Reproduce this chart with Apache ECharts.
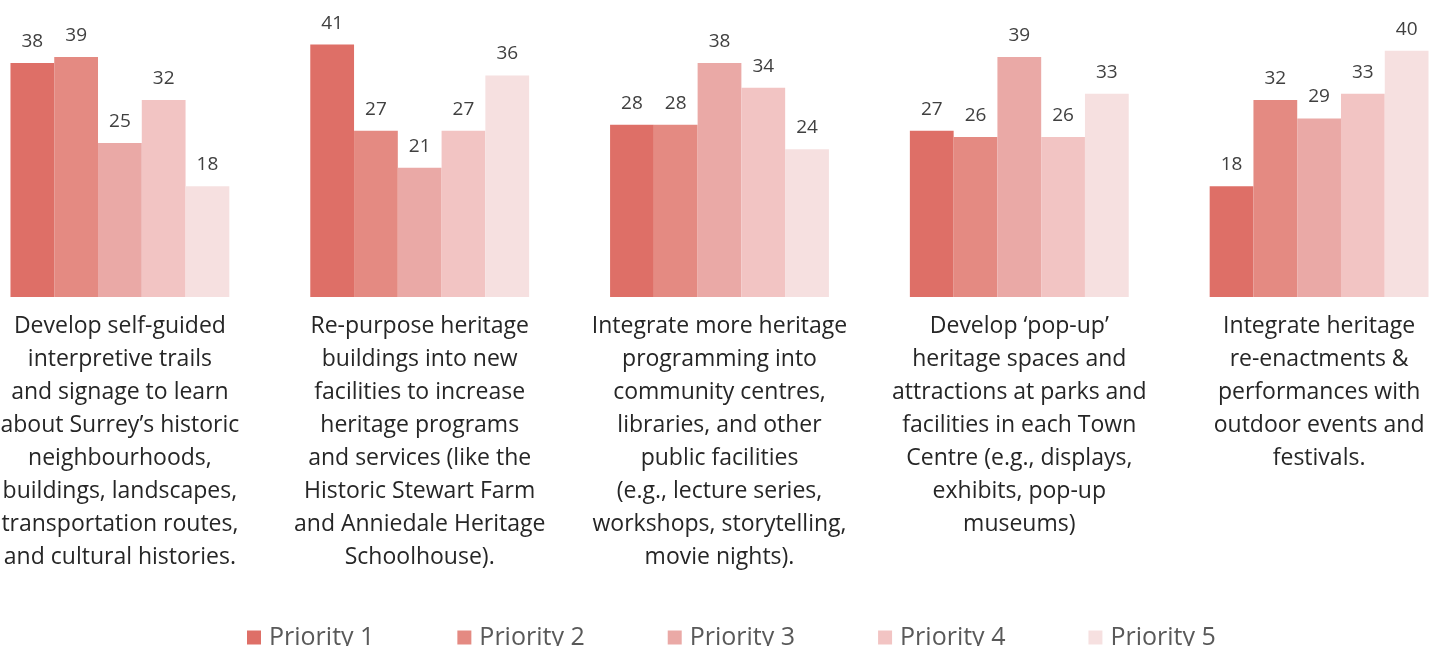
<!DOCTYPE html>
<html>
<head>
<meta charset="utf-8">
<script src="https://cdn.jsdelivr.net/npm/echarts@6/dist/echarts.min.js"></script>
<style>
  html, body { margin: 0; padding: 0; background: #fff; }
  #chart { width: 1435px; height: 646px; }
</style>
</head>
<body>
<div id="chart"></div>
<script>
// 类目(每组的说明文字，换行按原图)
const categories = [
  'Develop self-guided\ninterpretive trails\nand signage to learn\nabout Surrey\u2019s historic\nneighbourhoods,\nbuildings, landscapes,\ntransportation routes,\nand cultural histories.',
  'Re-purpose heritage\nbuildings into new\nfacilities to increase\nheritage programs\nand services (like the\nHistoric Stewart Farm\nand Anniedale Heritage\nSchoolhouse).',
  'Integrate more heritage\nprogramming into\ncommunity centres,\nlibraries, and other\npublic facilities\n(e.g., lecture series,\nworkshops, storytelling,\nmovie nights).',
  'Develop \u2018pop-up\u2019\nheritage spaces and\nattractions at parks and\nfacilities in each Town\nCentre (e.g., displays,\nexhibits, pop-up\nmuseums)',
  'Integrate heritage\nre-enactments &\nperformances with\noutdoor events and\nfestivals.'
]

// 各优先级数据
const priority1 = [38, 41, 28, 27, 18]
const priority2 = [39, 27, 28, 26, 32]
const priority3 = [25, 21, 38, 39, 29]
const priority4 = [32, 27, 34, 26, 33]
const priority5 = [18, 36, 24, 33, 40]

const seriesNames = ['Priority 1', 'Priority 2', 'Priority 3', 'Priority 4', 'Priority 5']
const colors = ['#DE6F67', '#E48A82', '#EAA9A6', '#F2C4C3', '#F6E0E0']

let myChart = echarts.init(document.getElementById('chart'))

let makeSeries = (name, data) => {
  return {
    name: name,
    type: 'bar',
    data: data,
    barGap: '0%',
    barCategoryGap: '27%',
    label: {
      show: true,
      position: 'top',
      distance: 12,
      color: '#404040',
      fontSize: 19,
      fontFamily: 'Open Sans'
    }
  }
}

let options = {
  animation: false,
  color: colors,
  grid: {
    left: -30,
    width: 1499,
    top: 20,
    height: 277,
    outerBoundsMode: 'none', // 不让标签挤压网格
    containLabel: false
  },
  legend: {
    data: seriesNames,
    top: 620,
    left: 242,
    itemWidth: 14,
    itemHeight: 14,
    itemGap: 83,
    icon: 'rect',
    textStyle: {
      color: '#595959',
      fontSize: 25,
      fontFamily: 'Open Sans',
      padding: [0, 0, 0, 3]
    }
  },
  xAxis: {
    type: 'category',
    data: categories,
    axisLine: { show: false },
    axisTick: { show: false },
    axisLabel: {
      interval: 0,
      margin: 13,
      color: '#262626',
      fontSize: 23,
      lineHeight: 33,
      fontFamily: 'Open Sans',
      align: 'center'
    }
  },
  yAxis: {
    type: 'value',
    min: 0,
    max: 45,
    show: false,
    splitLine: { show: false }
  },
  series: [
    makeSeries(seriesNames[0], priority1),
    makeSeries(seriesNames[1], priority2),
    makeSeries(seriesNames[2], priority3),
    makeSeries(seriesNames[3], priority4),
    makeSeries(seriesNames[4], priority5)
  ]
}

myChart.setOption(options)
</script>
</body>
</html>
